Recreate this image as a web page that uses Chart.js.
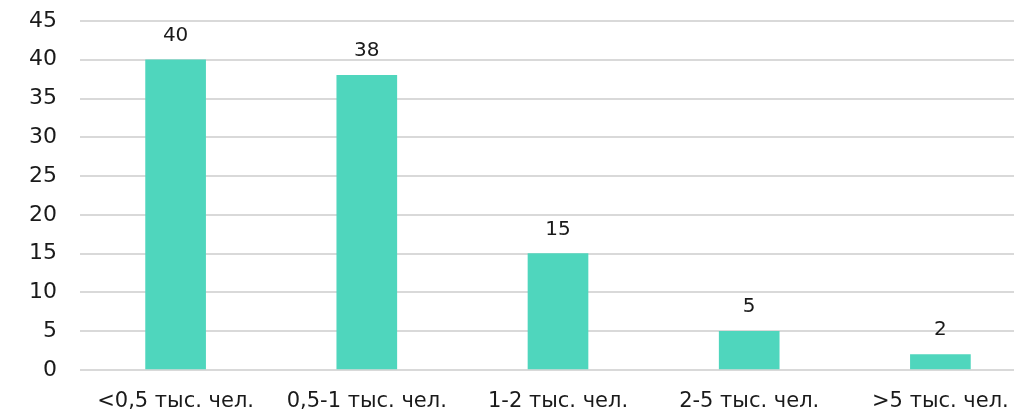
<!DOCTYPE html>
<html><head><meta charset="utf-8">
<script src="https://cdn.jsdelivr.net/npm/chart.js@4"></script>
<style>
html,body{margin:0;padding:0;overflow:hidden;background:#fff;}
#wrap{position:relative;width:1036px;height:410px;}
</style></head>
<body>
<div id="wrap"><canvas id="c"></canvas></div>
<script>
const categories = ["<0,5 тыс. чел.", "0,5-1 тыс. чел.", "1-2 тыс. чел.", "2-5 тыс. чел.", ">5 тыс. чел."];
const values = [40, 38, 15, 5, 2];
const yTicks = [0, 5, 10, 15, 20, 25, 30, 35, 40, 45];

const FONT = "'DejaVu Sans', sans-serif";
const TEXT = "#1a1a1a";

const labelPlugin = {
  id: 'valLabels',
  afterDatasetsDraw(chart) {
    const ctx = chart.ctx;
    const meta = chart.getDatasetMeta(0);
    ctx.save();
    ctx.font = "20px " + FONT;
    ctx.fillStyle = TEXT;
    ctx.textAlign = 'center';
    ctx.textBaseline = 'alphabetic';
    meta.data.forEach((bar, i) => {
      ctx.fillText(String(values[i]), bar.x, bar.y - 19);
    });
    ctx.restore();
  }
};

new Chart(document.getElementById('c'), {
  type: 'bar',
  data: {
    labels: categories,
    datasets: [{
      data: values,
      backgroundColor: '#4fd6bd',
      barThickness: 60
    }]
  },
  options: {
    responsive: true,
    maintainAspectRatio: false,
    animation: false,
    layout: { padding: { top: 21, right: 0, left: 0, bottom: 0 } },
    plugins: { legend: { display: false }, tooltip: { enabled: false } },
    scales: {
      x: {
        grid: { display: false, drawTicks: false },
        border: { display: false },
        ticks: { color: TEXT, font: { family: FONT, size: 21 }, padding: 19, maxRotation: 0, autoSkip: false },
        afterFit(s) { s.height = 40; s.paddingLeft = 0; s.paddingRight = 0; }
      },
      y: {
        min: 0, max: 45,
        afterBuildTicks(s) { s.ticks = yTicks.map(v => ({ value: v })); },
        grid: { color: '#d9d9d9', lineWidth: 2, drawTicks: false },
        border: { display: false },
        ticks: { color: TEXT, font: { family: FONT, size: 22 }, padding: 23 },
        afterFit(s) { s.width = 80; s.paddingTop = 0; s.paddingBottom = 0; }
      }
    }
  },
  plugins: [labelPlugin]
});
</script>
</body></html>
